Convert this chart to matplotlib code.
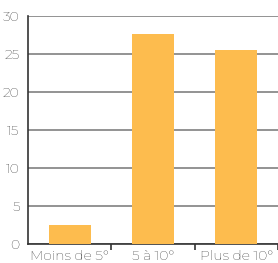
import matplotlib
matplotlib.use("Agg")
import matplotlib.pyplot as plt
from matplotlib.ticker import FixedLocator

categories = ["Moins de 5°", "5 à 10°", "Plus de 10°"]
values = [2.5, 27.6, 25.5]
yticks = [0, 5, 10, 15, 20, 25, 30]

plt.rcParams['font.family'] = ['Montserrat', 'Lato', 'DejaVu Sans']
plt.rcParams['font.weight'] = 'normal'

fig = plt.figure(figsize=(2.78, 2.63), dpi=100)
ax = fig.add_axes([28/278, 19/263, 250/278, 228/263])

x = range(len(categories))
ax.bar(x, values, width=0.5, color="#FDBC4E", zorder=3)

ax.set_xlim(-0.5, 2.5)
ax.set_ylim(0, 30)
ax.set_yticks(yticks)
ax.yaxis.grid(True, color="#808080", linewidth=1.2, zorder=0)
ax.tick_params(axis='y', length=0, pad=6, labelsize=10, colors="#000000")

ax.set_xticks([0.5, 1.5, 2.5])
ax.set_xticklabels([])
ax.xaxis.set_minor_locator(FixedLocator(list(x)))
ax.set_xticklabels(categories, minor=True)
ax.tick_params(axis='x', which='major', length=4, width=1.2, color="#333333")
ax.tick_params(axis='x', which='minor', length=0, pad=4, labelsize=10, colors="#000000")

for s in ["top", "right"]:
    ax.spines[s].set_visible(False)
for s in ["left", "bottom"]:
    ax.spines[s].set_color("#333333")
    ax.spines[s].set_linewidth(1.2)

fig.savefig("out.png", dpi=100)
